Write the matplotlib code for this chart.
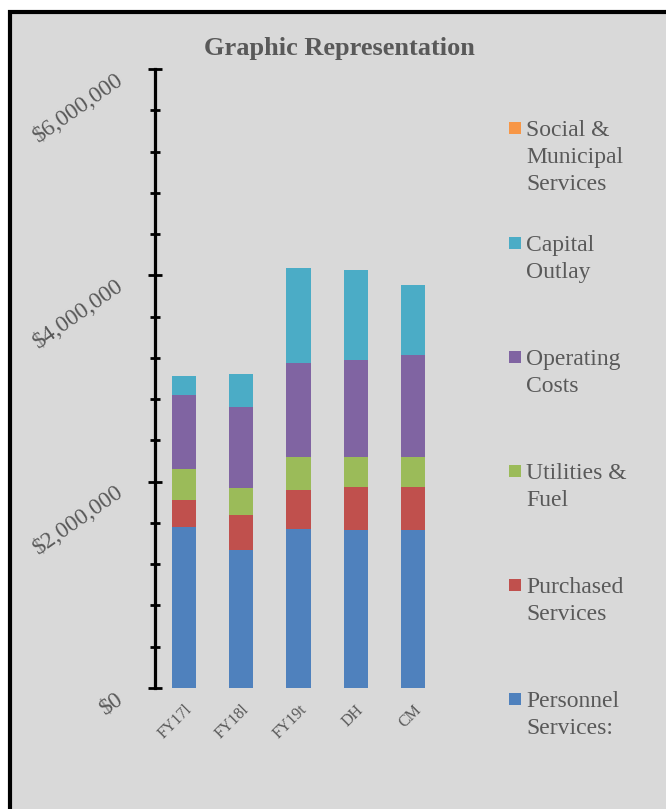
import matplotlib
matplotlib.use("Agg")
import matplotlib.pyplot as plt
from matplotlib.patches import Rectangle
from matplotlib.ticker import MultipleLocator, FixedLocator
import numpy as np

categories = ["FY17l", "FY18l", "FY19t", "DH", "CM"]
series_names = ["Personnel Services:", "Purchased Services", "Utilities & Fuel",
                "Operating Costs", "Capital Outlay", "Social & Municipal Services"]
personnel = [1559000, 1342000, 1546000, 1533000, 1533000]
purchased = [262000, 333000, 375000, 414000, 414000]
utilities = [300000, 259000, 317000, 294000, 294000]
operating = [721000, 792000, 914000, 937000, 986000]
capital = [184000, 320000, 919000, 876000, 679000]
social = [0, 0, 0, 0, 0]
ytick_values = [0, 2000000, 4000000, 6000000]
ytick_labels = ["$0", "$2,000,000", "$4,000,000", "$6,000,000"]

legend_labels = ["Social &\nMunicipal\nServices", "Capital\nOutlay", "Operating\nCosts",
                 "Utilities &\nFuel", "Purchased\nServices", "Personnel\nServices:"]
colors = {"Personnel Services:": "#4f81bd", "Purchased Services": "#c0504d",
          "Utilities & Fuel": "#9bbb59", "Operating Costs": "#8064a2",
          "Capital Outlay": "#4bacc6", "Social & Municipal Services": "#f79646"}

SERIF = "Liberation Serif"
GRAY = "#595959"
W, H = 666, 809
fig = plt.figure(figsize=(W / 100, H / 100), dpi=100)
fig.patch.set_facecolor("white")

# chart area frame
frame = Rectangle((10 / W, -0.1), 1.2, 1 - 12 / H + 0.1, transform=fig.transFigure,
                  facecolor="#d9d9d9", edgecolor="black", linewidth=3, zorder=-10)
fig.patches.append(frame)

ax = fig.add_axes([155 / W, 1 - 688 / H, (442 - 155) / W, (688 - 69) / H])
ax.set_facecolor("none")
ax.set_zorder(5)

x = np.arange(len(categories))
data = [personnel, purchased, utilities, operating, capital, social]
bottom = np.zeros(len(categories))
for name, vals in zip(series_names, data):
    ax.bar(x, vals, width=0.42, bottom=bottom, color=colors[name], zorder=2)
    bottom += np.array(vals)

ax.set_xlim(-0.5, len(categories) - 0.5)
ax.set_ylim(0, 6000000)

for s in ["top", "right", "bottom"]:
    ax.spines[s].set_visible(False)
ax.spines["left"].set_linewidth(2.3)
ax.spines["left"].set_color("black")

ax.yaxis.set_major_locator(FixedLocator(ytick_values))
ax.yaxis.set_minor_locator(MultipleLocator(400000))
ax.set_yticklabels(ytick_labels, rotation=35, ha="right", va="top",
                   rotation_mode="anchor", fontfamily=SERIF, fontsize=16.8, color=GRAY)
ax.tick_params(axis="y", which="major", direction="inout", length=10, width=2,
               color="black", pad=23.5)
ax.tick_params(axis="y", which="minor", direction="inout", length=7, width=2,
               color="black")

ax.set_xticks(x)
ax.set_xticklabels(categories, rotation=45, ha="right", va="top",
                   rotation_mode="anchor", fontfamily=SERIF, fontsize=11.5, color=GRAY)
ax.tick_params(axis="x", length=0, pad=10)

# title
fig.text(339 / W, 1 - 55 / H, "Graphic Representation", ha="center", va="baseline",
         fontfamily=SERIF, fontsize=19, fontweight="bold", color=GRAY)

# legend (drawn manually to match layout)
legend_order = ["Social & Municipal Services", "Capital Outlay", "Operating Costs",
                "Utilities & Fuel", "Purchased Services", "Personnel Services:"]
centers = [128, 243, 357, 471, 585, 699]
for name, lab, cy in zip(legend_order, legend_labels, centers):
    fig.patches.append(Rectangle((509 / W, 1 - (cy + 6) / H), 12 / W, 12 / H,
                                 transform=fig.transFigure, facecolor=colors[name],
                                 edgecolor="none", zorder=3))
    fig.text(526 / W, 1 - (cy - 8) / H, lab, ha="left", va="top", fontfamily=SERIF,
             fontsize=17, color=GRAY, linespacing=1.39)

fig.savefig("out.png", dpi=100)
